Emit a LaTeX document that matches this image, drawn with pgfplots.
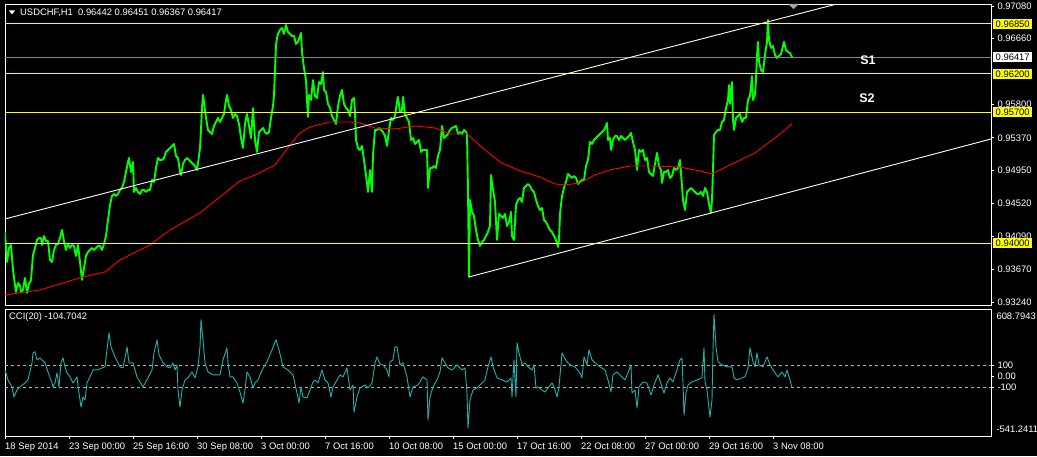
\documentclass[border=0pt]{standalone}
\usepackage{pgfplots}
\usepackage{pgfplotstable}
\pgfplotsset{compat=1.18}
\usepackage{fontspec}
\setmainfont{Liberation Sans}
\definecolor{pricegreen}{HTML}{00FF00}
\definecolor{cciteal}{HTML}{20B2AA}
\definecolor{slate}{HTML}{778899}
\definecolor{lvlyellow}{HTML}{FFFF00}
\definecolor{mared}{HTML}{FF0000}
\newcommand{\lbl}{\fontsize{9.4}{10}\selectfont}

\pgfplotstableread{
bar price
0 0.94149
2 0.93760
4 0.93942
6 0.93981
8 0.93656
10 0.93462
11 0.93371
13 0.93488
15 0.93449
16 0.93371
18 0.93397
20 0.93553
22 0.93358
24 0.93475
26 0.93527
28 0.93851
30 0.93942
32 0.94045
34 0.94071
36 0.94071
37 0.93981
39 0.94097
41 0.94032
43 0.94032
45 0.93786
47 0.93760
49 0.93916
51 0.93981
53 0.93994
55 0.94071
57 0.94175
59 0.94032
61 0.93916
63 0.93994
65 0.93942
67 0.93981
69 0.93968
71 0.93838
73 0.93981
75 0.93760
77 0.93527
79 0.93682
81 0.93838
83 0.93890
85 0.93916
87 0.93942
89 0.93916
91 0.93942
93 0.93968
95 0.93968
97 0.93916
99 0.93994
101 0.94097
103 0.94305
105 0.94499
107 0.94616
109 0.94642
111 0.94616
113 0.94642
115 0.94694
117 0.94720
119 0.94798
121 0.94927
123 0.95057
124 0.95109
126 0.94927
128 0.95057
129 0.94668
131 0.94720
133 0.94668
135 0.94642
137 0.94694
139 0.94694
141 0.94668
143 0.94694
145 0.94694
147 0.94823
149 0.94798
151 0.94979
153 0.95109
155 0.95083
157 0.95083
159 0.95109
161 0.95187
163 0.95213
165 0.95239
167 0.95265
169 0.95290
171 0.95135
173 0.95109
175 0.94927
176 0.94888
178 0.95031
180 0.95083
182 0.95109
184 0.95083
186 0.95057
188 0.95031
190 0.95005
192 0.94953
194 0.95135
195 0.95239
196 0.95472
197 0.95757
198 0.95926
199 0.95835
201 0.95628
203 0.95472
205 0.95446
207 0.95420
209 0.95524
211 0.95576
213 0.95628
215 0.95576
217 0.95628
219 0.95679
221 0.95861
222 0.95926
224 0.95783
226 0.95731
228 0.95628
230 0.95679
232 0.95654
234 0.95550
236 0.95368
238 0.95239
240 0.95550
242 0.95679
244 0.95524
246 0.95368
248 0.95757
250 0.95342
252 0.95187
254 0.95446
256 0.95472
258 0.95498
260 0.95446
262 0.95420
264 0.95446
266 0.95628
268 0.95783
269 0.95926
270 0.96250
271 0.96575
272 0.96666
273 0.96718
275 0.96769
277 0.96795
279 0.96718
281 0.96834
283 0.96743
285 0.96718
287 0.96692
289 0.96692
291 0.96588
293 0.96614
295 0.96692
296 0.96731
297 0.96484
299 0.96276
301 0.96120
302 0.95861
303 0.95641
304 0.95926
306 0.95861
308 0.96120
310 0.95913
312 0.95887
314 0.96094
316 0.96068
318 0.96224
319 0.95991
321 0.95965
323 0.95809
325 0.95757
327 0.95654
329 0.95602
331 0.95550
333 0.95783
335 0.95913
337 0.95991
339 0.95809
341 0.95757
343 0.95731
345 0.95654
347 0.95861
349 0.95887
350 0.95705
351 0.95342
353 0.95239
355 0.95213
357 0.95265
359 0.95083
361 0.94888
363 0.94668
365 0.94953
367 0.94668
368 0.95148
370 0.95472
372 0.95472
374 0.95498
376 0.95472
378 0.95446
380 0.95394
382 0.95265
384 0.95472
386 0.95628
388 0.95602
390 0.95654
392 0.95835
393 0.95900
395 0.95705
397 0.95731
398 0.95900
400 0.95679
402 0.95628
404 0.95576
406 0.95342
408 0.95368
410 0.95290
412 0.95317
414 0.95342
416 0.95187
418 0.95213
420 0.95213
422 0.95213
423 0.94720
425 0.94979
427 0.94979
429 0.95005
431 0.94979
433 0.95135
435 0.95213
437 0.95524
439 0.95368
441 0.95394
443 0.95420
445 0.95472
447 0.95498
449 0.95511
451 0.95524
453 0.95420
455 0.95446
457 0.95420
459 0.95472
461 0.95446
462 0.95420
463 0.94694
464 0.93566
465 0.94564
467 0.94409
469 0.94357
471 0.94175
473 0.94045
475 0.93968
477 0.94019
479 0.94045
481 0.94097
483 0.94149
485 0.94227
486 0.94888
488 0.94694
490 0.94538
492 0.94045
494 0.94383
496 0.94357
498 0.94331
500 0.94383
502 0.94227
504 0.94279
506 0.94409
507 0.94097
509 0.94045
511 0.94499
513 0.94564
515 0.94590
517 0.94538
519 0.94720
521 0.94746
523 0.94772
525 0.94746
527 0.94694
529 0.94668
531 0.94564
533 0.94486
535 0.94434
537 0.94460
539 0.94305
541 0.94279
543 0.94227
545 0.94175
547 0.94149
549 0.94097
551 0.94045
553 0.93955
554 0.94045
555 0.94383
557 0.94616
559 0.94720
561 0.94798
563 0.94902
565 0.94876
567 0.94850
569 0.94876
571 0.94850
573 0.94772
575 0.94798
577 0.94823
579 0.94823
581 0.95005
583 0.95083
585 0.95317
587 0.95291
589 0.95342
591 0.95368
593 0.95394
595 0.95420
597 0.95446
599 0.95472
601 0.95524
602 0.95563
603 0.95342
605 0.95368
606 0.95213
608 0.95342
610 0.95394
612 0.95394
614 0.95342
616 0.95394
618 0.95368
620 0.95342
622 0.95368
624 0.95394
626 0.95433
628 0.95317
630 0.95213
632 0.94953
634 0.95213
636 0.95187
638 0.95213
640 0.95083
642 0.95109
644 0.94927
646 0.94902
648 0.94876
650 0.95031
652 0.95174
654 0.95005
656 0.94953
657 0.94785
659 0.94927
661 0.94927
663 0.94953
665 0.94850
667 0.94876
669 0.94979
671 0.94953
673 0.94979
675 0.95083
677 0.94746
678 0.94564
680 0.94434
682 0.94668
684 0.94694
686 0.94720
688 0.94694
690 0.94668
692 0.94642
694 0.94642
696 0.94668
698 0.94616
700 0.94720
702 0.94668
704 0.94512
706 0.94396
707 0.94564
708 0.94953
709 0.95407
711 0.95446
713 0.95472
715 0.95472
717 0.95576
719 0.95602
721 0.95757
723 0.95861
724 0.96055
725 0.95809
727 0.96094
728 0.95602
729 0.95472
731 0.95628
733 0.95654
735 0.95679
737 0.95576
739 0.95628
741 0.95628
743 0.95861
745 0.95913
747 0.96172
748 0.95861
750 0.95939
751 0.96120
752 0.96432
753 0.96614
754 0.96354
756 0.96250
758 0.96224
760 0.96445
762 0.96614
763 0.96899
764 0.96640
766 0.96536
768 0.96562
770 0.96445
772 0.96406
774 0.96432
776 0.96458
778 0.96562
779 0.96614
781 0.96510
783 0.96484
785 0.96471
787 0.96417
}\pricedata

\pgfplotstableread{
bar ma
0 0.93332
35 0.93397
78 0.93566
100 0.93630
115 0.93786
145 0.93981
165 0.94175
195 0.94396
235 0.94811
250 0.94888
270 0.95018
285 0.95277
295 0.95433
305 0.95511
325 0.95576
345 0.95576
355 0.95563
370 0.95498
390 0.95485
410 0.95524
430 0.95498
445 0.95420
462 0.95420
480 0.95213
495 0.95057
515 0.94940
535 0.94862
550 0.94772
560 0.94759
575 0.94785
590 0.94888
605 0.94953
625 0.95005
645 0.95005
675 0.94992
695 0.94940
707 0.94902
725 0.95018
750 0.95174
770 0.95368
787 0.95550
}\madata

\pgfplotstableread{
bar cci
0 57
3 -34
7 -97
9 -188
12 -125
15 -97
20 -61
23 -34
27 121
28 212
30 221
32 148
35 166
40 121
43 39
47 -61
48 -97
50 -61
52 30
54 -97
56 121
58 166
60 85
62 30
65 -6
68 -61
72 -6
74 -152
76 -279
78 -188
80 -215
82 -61
85 -6
88 57
92 57
97 75
100 85
102 239
104 394
106 266
110 175
115 85
118 75
121 212
122 266
124 121
128 121
132 -6
138 -97
143 -15
147 57
149 212
152 330
154 194
158 121
162 85
165 75
168 121
170 57
172 103
173 -125
175 -279
177 -125
180 -34
183 -15
187 39
190 -15
193 85
195 266
196 512
198 330
200 121
203 39
208 12
215 12
218 148
222 257
223 121
225 -6
228 -6
232 -61
235 -143
238 -243
240 -125
242 39
245 -6
248 -106
250 -61
253 -34
257 57
262 130
267 239
271 330
274 239
278 85
283 57
288 12
292 -152
294 -243
296 -97
298 -188
302 -197
305 -125
308 -52
310 -34
313 -61
317 57
320 -34
323 -61
326 -188
328 -97
332 -34
335 12
338 -6
342 75
345 -125
348 -79
349 -325
352 -188
355 -106
360 -79
363 -106
367 -61
368 -6
370 121
372 175
375 110
378 103
382 57
384 -6
385 130
388 148
390 266
392 266
395 103
398 121
402 -6
405 -188
408 -97
413 -79
418 -6
422 -34
423 -397
425 -188
428 -97
432 -34
435 39
437 166
440 121
443 75
447 57
452 103
457 57
460 75
462 -152
463 -470
465 -215
468 -125
472 -106
475 -79
480 -34
483 85
486 175
488 85
492 -15
497 -34
502 -52
506 -15
507 -188
509 148
511 -188
512 303
514 212
517 103
520 121
523 85
527 57
529 103
531 -106
533 -97
537 -125
540 -143
543 -106
547 -61
549 -97
552 -188
554 -97
557 212
559 175
562 130
565 103
570 85
575 30
577 -15
579 175
582 103
584 239
587 148
590 121
595 85
600 57
603 -34
606 -143
608 12
612 39
615 12
620 -34
623 30
626 103
627 -152
630 -125
632 -288
634 -97
638 -52
642 -61
646 -170
649 -79
653 12
657 -97
659 -152
662 -61
665 -15
668 -52
672 57
675 148
677 166
678 -61
679 -352
681 -152
683 -79
687 -52
692 -34
697 -15
699 257
700 -52
702 -125
705 -370
707 -215
708 239
709 560
711 266
713 130
717 103
722 85
727 85
729 -15
732 -34
737 -15
740 -6
743 75
745 257
748 130
750 85
752 212
754 103
758 85
762 175
765 103
768 57
773 -6
777 39
780 -6
782 57
785 -34
787 -105
}\ccidata

\begin{document}
\begin{tikzpicture}[x=1pt,y=1pt]
\useasboundingbox (0,0) rectangle (1037,456);
\clip (0,0) rectangle (1037,456);
\fill[black] (0,0) rectangle (1037,456);

% ---------------- price panel ----------------
\begin{axis}[
  at={(5pt,151pt)}, anchor=south west,
  scale only axis, width=986pt, height=301pt,
  xmin=0, xmax=986, ymin=0.93202, ymax=0.97106,
  axis line style={white, line width=0.8pt},
  xtick=\empty,
  ytick={0.9324,0.9367,0.9409,0.9452,0.9495,0.9537,0.9580,0.9666,0.9708},
  yticklabels={0.93240,0.93670,0.94090,0.94520,0.94950,0.95370,0.95800,0.96660,0.97080},
  ytick pos=right, yticklabel pos=right,
  tick align=outside, major tick length=3pt,
  tick style={white, line width=0.8pt},
  yticklabel style={font=\lbl, text=white, anchor=west},
  clip=true,
]
\addplot[pricegreen, line width=1.9pt, line join=round] table[x=bar, y=price] {\pricedata};
\addplot[mared, line width=0.9pt] table[x=bar, y=ma] {\madata};
\addplot[lvlyellow, line width=1.1pt] coordinates {(0,0.9685) (986,0.9685)};
\addplot[lvlyellow, line width=1.1pt] coordinates {(0,0.9620) (986,0.9620)};
\addplot[lvlyellow, line width=1.1pt] coordinates {(0,0.9570) (986,0.9570)};
\addplot[lvlyellow, line width=1.1pt] coordinates {(0,0.9400) (986,0.9400)};
\addplot[slate, line width=1pt] coordinates {(0,0.96417) (986,0.96417)};
\addplot[white, line width=0.9pt] coordinates {(0,0.94318) (986,0.97623)};
\addplot[white, line width=0.9pt] coordinates {(464,0.93566) (986,0.95355)};
\coordinate (L9685) at (axis cs:986,0.9685);
\coordinate (L9620) at (axis cs:986,0.9620);
\coordinate (L9570) at (axis cs:986,0.9570);
\coordinate (L9400) at (axis cs:986,0.9400);
\coordinate (L9642) at (axis cs:986,0.96417);
\coordinate (S1) at (axis cs:863,0.96380);
\coordinate (S2) at (axis cs:862,0.95887);
\end{axis}

% ---------------- CCI panel ----------------
\begin{axis}[
  at={(5pt,20pt)}, anchor=south west,
  scale only axis, width=986pt, height=127pt,
  xmin=0, xmax=986, ymin=-541.2411, ymax=608.7943,
  axis line style={white, line width=0.8pt},
  xtick={0,64,128,192,256,320,384,448,512,576,640,704,768},
  xticklabels={18 Sep 2014,23 Sep 00:00,25 Sep 16:00,30 Sep 08:00,3 Oct 00:00,7 Oct 16:00,10 Oct 08:00,15 Oct 00:00,17 Oct 16:00,22 Oct 08:00,27 Oct 00:00,29 Oct 16:00,3 Nov 08:00},
  xtick pos=left, ytick pos=right, yticklabel pos=right,
  ytick={-100,0,100}, yticklabels={-100,0.00,100},
  tick align=outside, major tick length=3pt,
  tick style={white, line width=0.8pt},
  xticklabel style={font=\lbl, text=white, anchor=north west, inner xsep=0pt},
  yticklabel style={font=\lbl, text=white, anchor=west},
  clip=true,
]
\addplot[gray!60!white, line width=0.7pt, dash pattern=on 3pt off 3pt] coordinates {(0,100) (986,100)};
\addplot[gray!60!white, line width=0.7pt, dash pattern=on 3pt off 3pt] coordinates {(0,-100) (986,-100)};
\addplot[cciteal, line width=0.9pt, line join=round] table[x=bar, y=cci] {\ccidata};
\coordinate (CTR) at (rel axis cs:1,1);
\coordinate (CBR) at (rel axis cs:1,0);
\end{axis}

% double separator
\draw[white, line width=0.8pt] (5,151) -- (991,151);
\draw[white, line width=0.8pt] (5,147) -- (991,147);

% highlighted price labels
\tikzset{pbox/.style={anchor=west, font=\lbl, text=black, inner xsep=2.5pt, inner ysep=1.5pt, text height=7pt, text depth=0pt}}
\node[pbox, fill=lvlyellow] at ([xshift=2pt]L9685) {0.96850};
\node[pbox, fill=white] at ([xshift=2pt]L9642) {0.96417};
\node[pbox, fill=lvlyellow] at ([xshift=2pt]L9620) {0.96200};
\node[pbox, fill=lvlyellow] at ([xshift=2pt]L9570) {0.95700};
\node[pbox, fill=lvlyellow] at ([xshift=2pt]L9400) {0.94000};

% CCI extreme labels
\node[anchor=west, font=\lbl, text=white] at ([xshift=2pt,yshift=-7pt]CTR) {608.7943};
\node[anchor=west, font=\lbl, text=white] at ([xshift=2pt,yshift=7pt]CBR) {-541.2411};

% S1 / S2
\node[font=\fontsize{12.5}{13}\selectfont\bfseries, text=white] at (S1) {S1};
\node[font=\fontsize{12.5}{13}\selectfont\bfseries, text=white] at (S2) {S2};

% header
\fill[white] (9,445.5) -- (15,445.5) -- (12,441.5) -- cycle;
\node[anchor=west, font=\lbl, text=white, inner xsep=0pt] at (20,443.3) {USDCHF,H1\ \ 0.96442 0.96451 0.96367 0.96417};
\node[anchor=west, font=\lbl, text=white, inner xsep=0pt] at (9,139) {CCI(20) -104.7042};

% chart-shift marker
\fill[gray!70!white] (788,452) -- (799,452) -- (793.5,447) -- cycle;
\end{tikzpicture}
\end{document}
